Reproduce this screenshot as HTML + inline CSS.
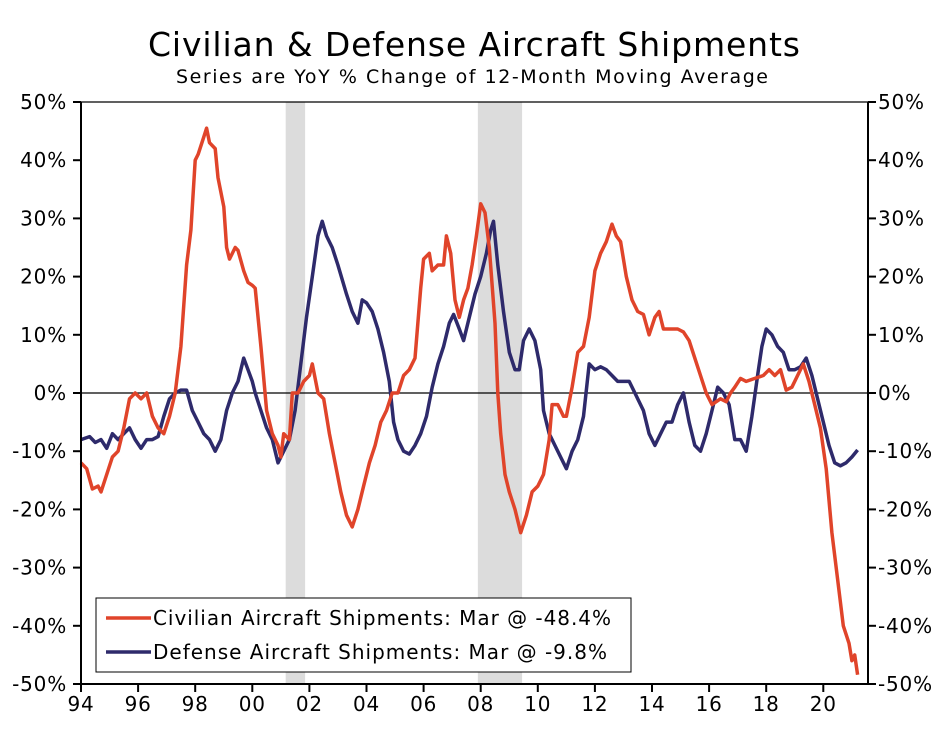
<!DOCTYPE html>
<html><head><meta charset="utf-8"><style>
body{margin:0;background:#fff;}
svg text{font-family:"DejaVu Sans","Liberation Sans",sans-serif;fill:#000;}
</style></head><body>
<svg id="chart" width="947" height="727" viewBox="0 0 947 727" xmlns="http://www.w3.org/2000/svg">
<text x="474" y="56" font-size="33" text-anchor="middle" textLength="652" lengthAdjust="spacing">Civilian &amp; Defense Aircraft Shipments</text>
<text x="472" y="83" font-size="19" text-anchor="middle" textLength="592" lengthAdjust="spacing">Series are YoY % Change of 12-Month Moving Average</text>
<g id="bands"></g>
<g id="grid"></g>
<g id="series"></g>
<g id="axes"></g>
<g>
<rect x="96" y="598" width="535" height="74" fill="#fff" stroke="#000" stroke-width="1"/>
<line x1="106" y1="618" x2="151" y2="618" stroke="#e0442a" stroke-width="3.5"/>
<text x="153" y="625" font-size="20" textLength="458" lengthAdjust="spacing">Civilian Aircraft Shipments: Mar @ -48.4%</text>
<line x1="106" y1="652" x2="151" y2="652" stroke="#2e2a6b" stroke-width="3.5"/>
<text x="153" y="659" font-size="20" textLength="454" lengthAdjust="spacing">Defense Aircraft Shipments: Mar @ -9.8%</text>
</g>
</svg>
<script>
const civYears=[1994.0,1994.2,1994.4,1994.6,1994.7,1994.9,1995.1,1995.3,1995.5,1995.7,1995.9,1996.1,1996.3,1996.5,1996.7,1996.9,1997.1,1997.3,1997.5,1997.7,1997.85,1998.0,1998.1,1998.3,1998.4,1998.5,1998.7,1998.8,1999.0,1999.1,1999.2,1999.4,1999.5,1999.7,1999.85,2000.0,2000.1,2000.3,2000.5,2000.7,2000.9,2001.0,2001.1,2001.3,2001.4,2001.6,2001.8,2002.0,2002.1,2002.3,2002.5,2002.7,2002.9,2003.1,2003.3,2003.5,2003.7,2003.9,2004.1,2004.3,2004.5,2004.7,2004.9,2005.1,2005.3,2005.5,2005.7,2005.9,2006.0,2006.2,2006.3,2006.5,2006.7,2006.8,2006.95,2007.1,2007.25,2007.4,2007.55,2007.7,2007.85,2008.0,2008.15,2008.3,2008.5,2008.6,2008.7,2008.85,2009.0,2009.2,2009.4,2009.6,2009.8,2010.0,2010.2,2010.4,2010.5,2010.7,2010.9,2011.0,2011.2,2011.4,2011.6,2011.8,2012.0,2012.2,2012.4,2012.6,2012.75,2012.9,2013.1,2013.3,2013.5,2013.7,2013.9,2014.1,2014.25,2014.4,2014.6,2014.9,2015.1,2015.3,2015.5,2015.7,2015.9,2016.1,2016.4,2016.6,2016.75,2016.9,2017.1,2017.3,2017.6,2017.9,2018.1,2018.3,2018.5,2018.7,2018.9,2019.1,2019.3,2019.5,2019.7,2019.9,2020.1,2020.3,2020.5,2020.7,2020.9,2021.0,2021.1,2021.2];
const civValues=[-12,-13,-16.5,-16,-17,-14,-11,-10,-6,-1,0,-1,0,-4,-6,-7,-4,0,8,22,28,40,41,44,45.5,43,42,37,32,25,23,25,24.5,21,19,18.5,18,8,-3,-7,-9,-11,-7,-8,0,0,2,3,5,0,-1,-7,-12,-17,-21,-23,-20,-16,-12,-9,-5,-3,0,0,3,4,6,18,23,24,21,22,22,27,24,16,13,16,18,22,27,32.5,31,25,12,0,-7,-14,-17,-20,-24,-21,-17,-16,-14,-8,-2,-2,-4,-4,1,7,8,13,21,24,26,29,27,26,20,16,14,13.5,10,13,14,11,11,11,10.5,9,6,3,0,-2,-1,-1.5,0,1,2.5,2,2.5,3,4,3,4,0.5,1,3,5,2,-2,-6,-13,-24,-32,-40,-43,-46,-45,-48.4];
const defYears=[1994.0,1994.3,1994.5,1994.7,1994.9,1995.1,1995.3,1995.5,1995.7,1995.9,1996.1,1996.3,1996.5,1996.7,1996.9,1997.1,1997.3,1997.5,1997.7,1997.9,1998.1,1998.3,1998.5,1998.7,1998.9,1999.1,1999.3,1999.5,1999.7,1999.85,2000.0,2000.1,2000.3,2000.5,2000.7,2000.9,2001.1,2001.3,2001.5,2001.7,2001.9,2002.1,2002.3,2002.45,2002.6,2002.8,2003.0,2003.3,2003.5,2003.7,2003.85,2004.0,2004.2,2004.4,2004.6,2004.8,2004.95,2005.1,2005.3,2005.5,2005.7,2005.9,2006.1,2006.3,2006.5,2006.7,2006.9,2007.05,2007.25,2007.4,2007.6,2007.8,2008.0,2008.2,2008.35,2008.45,2008.6,2008.8,2009.0,2009.2,2009.35,2009.5,2009.7,2009.9,2010.1,2010.2,2010.4,2010.6,2010.8,2011.0,2011.2,2011.4,2011.6,2011.8,2012.0,2012.2,2012.4,2012.6,2012.8,2013.0,2013.2,2013.4,2013.7,2013.9,2014.1,2014.3,2014.5,2014.7,2014.9,2015.1,2015.3,2015.5,2015.7,2015.9,2016.1,2016.3,2016.5,2016.7,2016.9,2017.1,2017.3,2017.5,2017.7,2017.85,2018.0,2018.2,2018.4,2018.6,2018.8,2019.0,2019.2,2019.4,2019.6,2019.8,2020.0,2020.2,2020.4,2020.6,2020.8,2021.0,2021.2];
const defValues=[-8,-7.5,-8.5,-8,-9.5,-7,-8,-7,-6,-8,-9.5,-8,-8,-7.5,-4,-1,0,0.5,0.5,-3,-5,-7,-8,-10,-8,-3,0,2,6,4,2,0,-3,-6,-8,-12,-10,-8,-3,5,13,20,27,29.5,27,25,22,17,14,12,16,15.5,14,11,7,2,-5,-8,-10,-10.5,-9,-7,-4,1,5,8,12,13.5,11,9,13,17,20,24,28,29.5,22,14,7,4,4,9,11,9,4,-3,-7,-9,-11,-13,-10,-8,-4,5,4,4.5,4,3,2,2,2,0,-3,-7,-9,-7,-5,-5,-2,0,-5,-9,-10,-7,-3,1,0,-2,-8,-8,-10,-4,3,8,11,10,8,7,4,4,4.5,6,3,-1,-5,-9,-12,-12.5,-12,-11,-9.8];
const yTicks=[50,40,30,20,10,0,-10,-20,-30,-40,-50];
const xTickYears=[1994,1996,1998,2000,2002,2004,2006,2008,2010,2012,2014,2016,2018,2020];
const xTickLabels=["94","96","98","00","02","04","06","08","10","12","14","16","18","20"];
const recessions=[[2001.17,2001.85],[2007.9,2009.45]];

const L=81,R=868,T=102,B=684;
const x=y=>L+(y-1994)*28.55;
const yv=v=>393-v*5.82;
const NS="http://www.w3.org/2000/svg";
function mk(tag,attrs,parent,txt){const e=document.createElementNS(NS,tag);for(const k in attrs)e.setAttribute(k,attrs[k]);if(txt!==undefined)e.textContent=txt;document.getElementById(parent).appendChild(e);return e;}

recessions.forEach(r=>{
 const e=mk('rect',{x:x(r[0]),y:T,width:x(r[1])-x(r[0]),height:B-T,fill:'#dcdcdc'},'bands');
 
 
});
const zl=mk('line',{x1:L,x2:R,y1:yv(0),y2:yv(0),stroke:'#000','stroke-width':1.2},'grid');



function line(xs,vs,col,name){
 const d=xs.map((t,i)=>(i?'L':'M')+x(t).toFixed(1)+','+yv(vs[i]).toFixed(1)).join(' ');
 const p=mk('path',{d:d,fill:'none',stroke:col,'stroke-width':3.5,'stroke-linejoin':'round'},'series');
 
 
}
line(defYears,defValues,'#2e2a6b','defense-series-line');
line(civYears,civValues,'#e0442a','civilian-series-line');

const ax=[[L,T,L,B],[R,T,R,B],[L,B,R,B],[L,T,R,T]];
ax.forEach(a=>{const e=mk('line',{x1:a[0],y1:a[1],x2:a[2],y2:a[3],stroke:'#000','stroke-width':a[1]===T&&a[3]===T?1.2:2},'axes');
 
 });
yTicks.forEach(v=>{
 const yy=yv(v);
 mk('line',{x1:L-8,x2:L,y1:yy,y2:yy,stroke:'#000','stroke-width':2},'axes');
 mk('line',{x1:R,x2:R+8,y1:yy,y2:yy,stroke:'#000','stroke-width':2},'axes');
 const t1=mk('text',{x:L-14,y:yy+7,'font-size':20,'text-anchor':'end','letter-spacing':'0.8'},'axes',v+'%');
 
 
 const t2=mk('text',{x:R+10,y:yy+7,'font-size':20,'text-anchor':'start','letter-spacing':'0.8'},'axes',v+'%');
 
 
});
xTickYears.forEach((yr,i)=>{
 const xx=x(yr);
 mk('line',{x1:xx,x2:xx,y1:B,y2:B+8,stroke:'#000','stroke-width':2},'axes');
 const t=mk('text',{x:xx,y:B+27,'font-size':20,'text-anchor':'middle','letter-spacing':'0.8'},'axes',xTickLabels[i]);
 
 
});
</script>
</body></html>
